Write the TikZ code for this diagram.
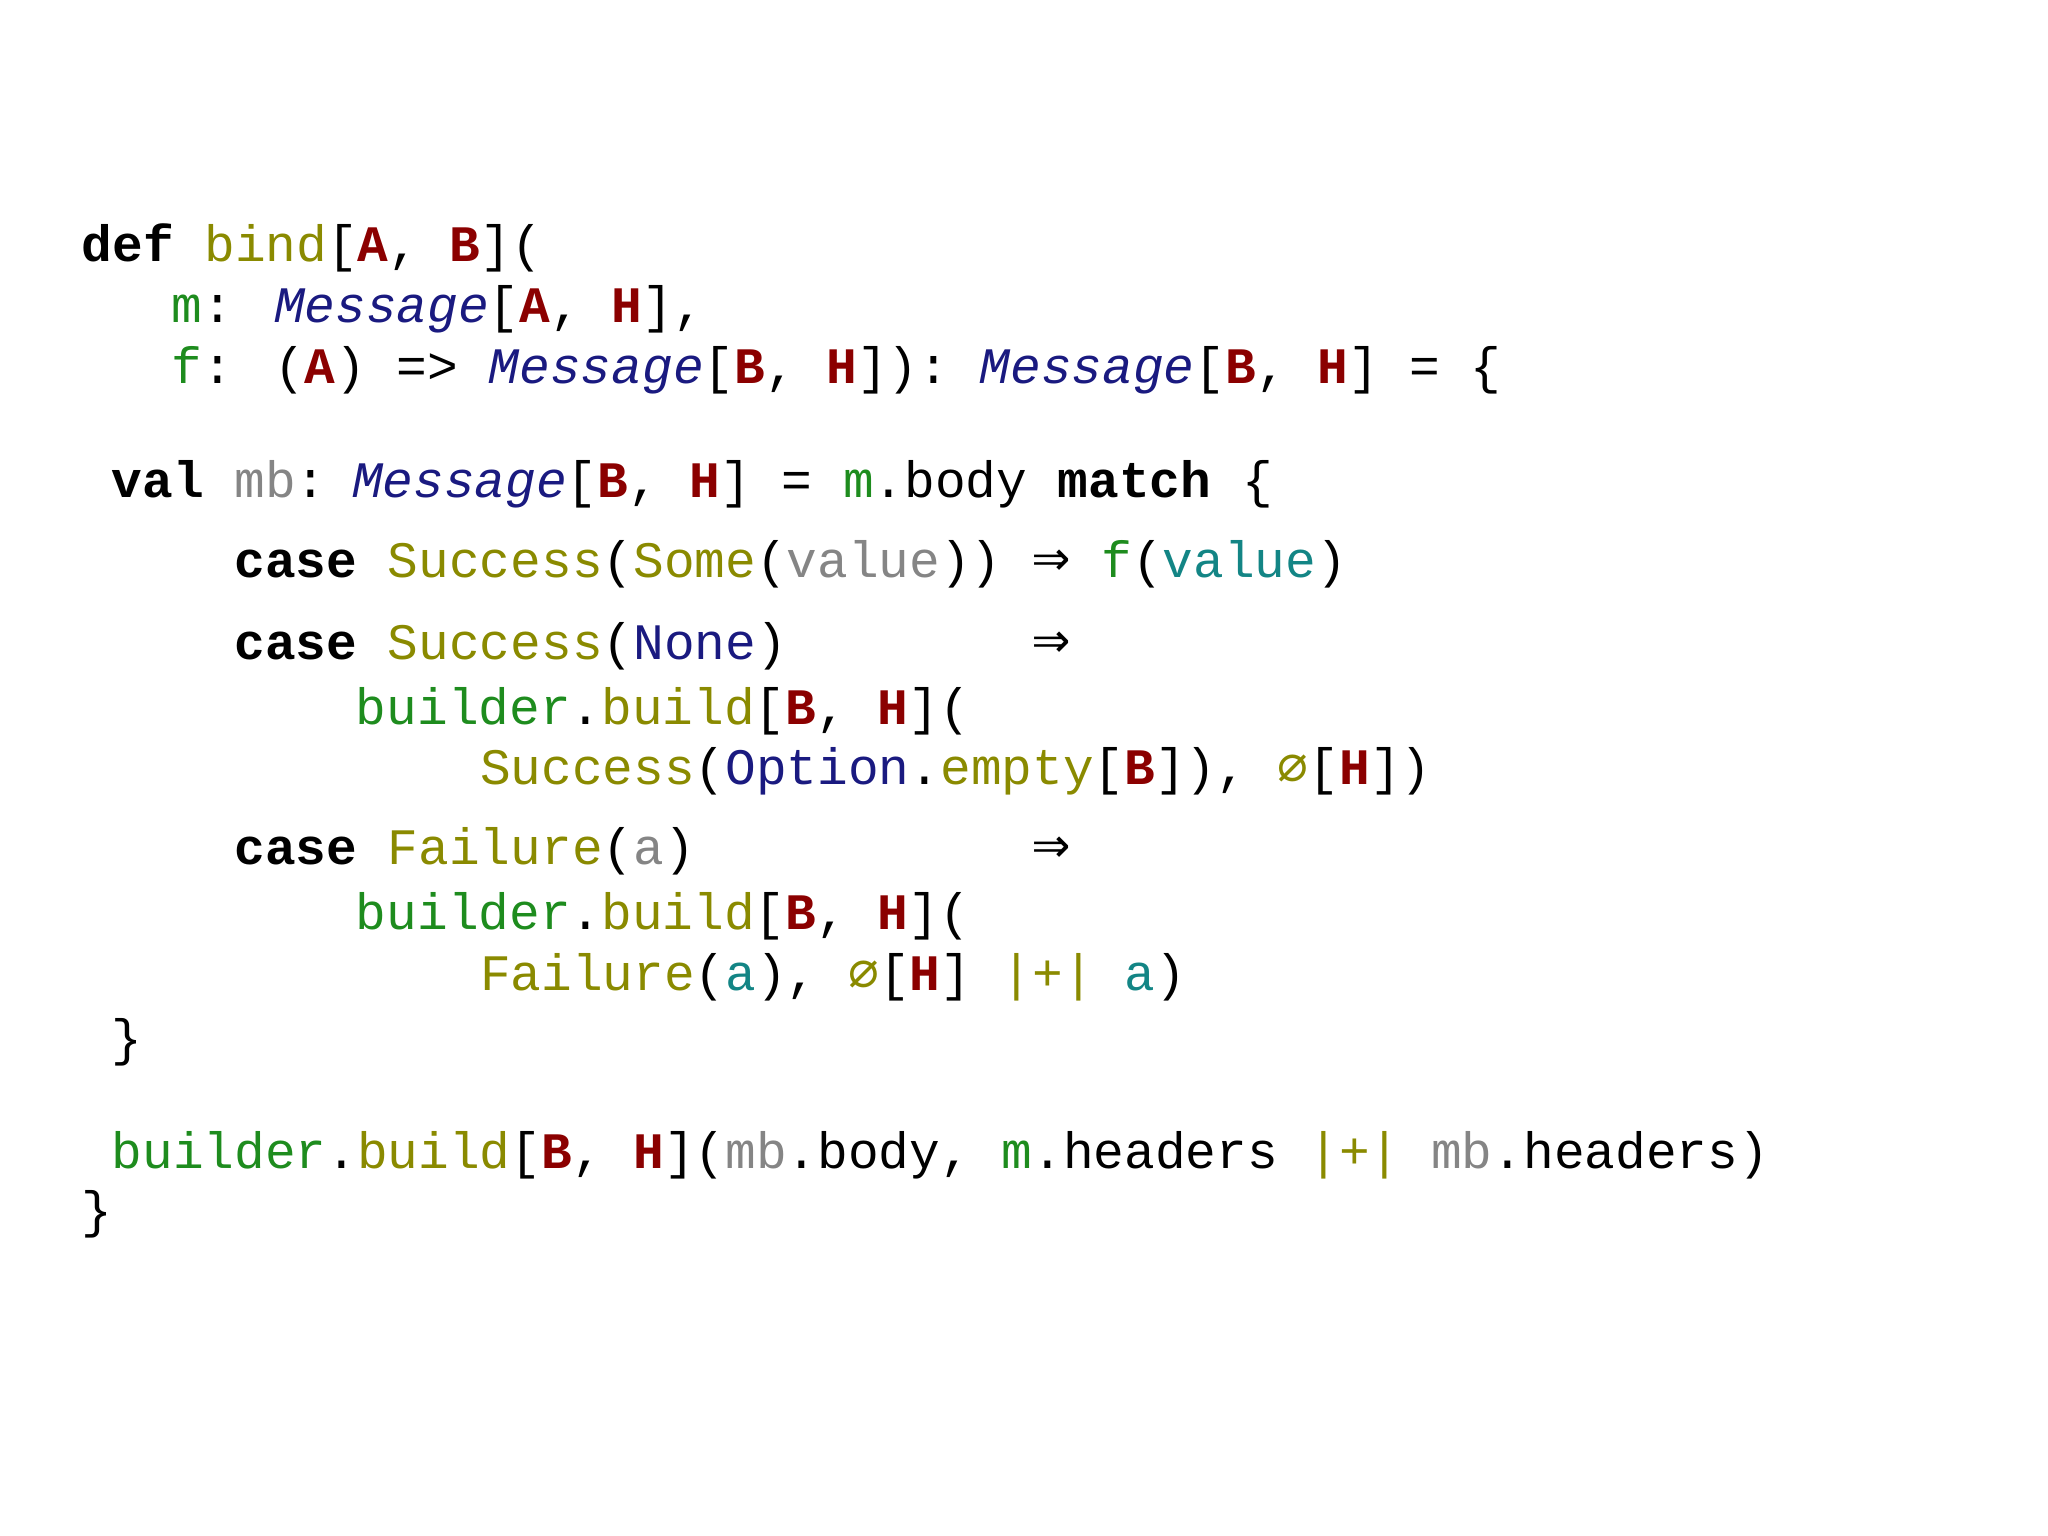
\documentclass[tikz,border=0pt]{standalone}
\usepackage{fontspec}
\setmainfont{Liberation Mono}
\newfontfamily\symf{DejaVu Sans Mono}
\definecolor{olv}{HTML}{8A8A00}
\definecolor{grn}{HTML}{1E8C1E}
\definecolor{nvy}{HTML}{1A1A80}
\definecolor{drd}{HTML}{8B0000}
\definecolor{gry}{HTML}{858585}
\definecolor{tel}{HTML}{138585}
\newcommand\kw[1]{\textbf{#1}}
\newcommand\ty[1]{\textcolor{nvy}{\textit{#1}}}
\newcommand\tp[1]{\textcolor{drd}{\textbf{#1}}}
\newcommand\ol[1]{\textcolor{olv}{#1}}
\newcommand\gr[1]{\textcolor{grn}{#1}}
\newcommand\gy[1]{\textcolor{gry}{#1}}
\newcommand\tl[1]{\textcolor{tel}{#1}}
\newcommand\nv[1]{\textcolor{nvy}{#1}}
\newcommand\arr{{\symf\fontsize{18}{20}\selectfont ⇒}}
\newcommand\emp{\ol{{\symf ∅}}}
\begin{document}
\begin{tikzpicture}[x=0.01306cm,y=-0.01306cm,
  ln/.style={anchor=base west,inner sep=0pt,font=\fontsize{14.55}{17}\selectfont}]
\useasboundingbox (0,0) rectangle (1568,1176);
\node[ln] (l1) at (62,200) {\kw{def} \ol{bind}[\tp{A}, \tp{B}](};
\node[ln] (l2) at (131,247) {\gr{m}: \ty{Message}[\tp{A}, \tp{H}],};
\node[ln] (l3) at (131,294) {\gr{f}: (\tp{A}) => \ty{Message}[\tp{B}, \tp{H}]): \ty{Message}[\tp{B}, \tp{H}] = \{};
\node[ln] (l4) at (85,381) {\kw{val} \gy{mb}:\hspace{-0.3em} \ty{Message}[\tp{B}, \tp{H}] = \gr{m}.body \kw{match} \{};
\node[ln] (l5) at (179,442) {\kw{case} \ol{Success}(\ol{Some}(\gy{value}))};
\node[ln] (a5) at (790,442) {\arr{} \gr{f}(\tl{value})};
\node[ln] (l6) at (179,505) {\kw{case} \ol{Success}(\nv{None})};
\node[ln] (a6) at (790,505) {\arr};
\node[ln] (l7) at (272,555) {\gr{builder}.\ol{build}[\tp{B}, \tp{H}](};
\node[ln] (l8) at (367,601) {\ol{Success}(\nv{Option}.\ol{empty}[\tp{B}]), \emp[\tp{H}])};
\node[ln] (l9) at (179,662) {\kw{case} \ol{Failure}(\gy{a})};
\node[ln] (a9) at (790,662) {\arr};
\node[ln] (l10) at (272,712) {\gr{builder}.\ol{build}[\tp{B}, \tp{H}](};
\node[ln] (l11) at (367,758) {\ol{Failure}(\tl{a}), \emp[\tp{H}] \ol{|+|} \tl{a})};
\node[ln] (l12) at (85,808) {\}};
\node[ln] (l13) at (85,895) {\gr{builder}.\ol{build}[\tp{B}, \tp{H}](\gy{mb}.body, \gr{m}.headers \ol{|+|} \gy{mb}.headers)};
\node[ln] (l14) at (62,940) {\}};
\end{tikzpicture}
\end{document}
